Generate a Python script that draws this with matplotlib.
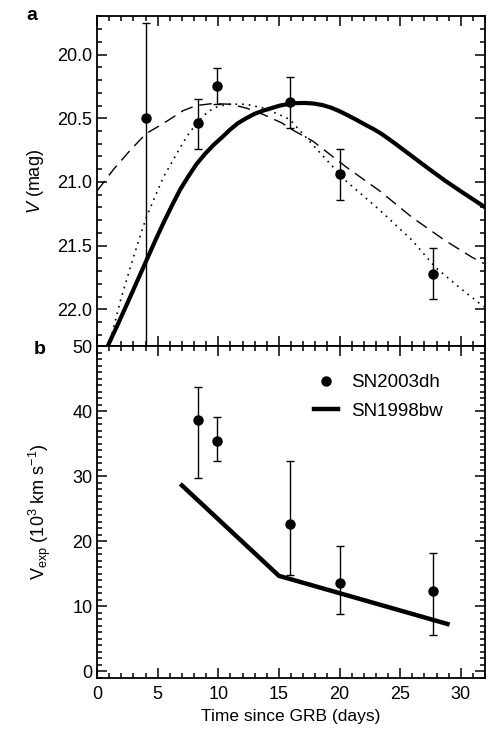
import matplotlib
matplotlib.use("Agg")
import matplotlib.pyplot as plt
from matplotlib.ticker import MultipleLocator
from matplotlib.lines import Line2D

plt.rcParams['font.family'] = ['Liberation Sans', 'DejaVu Sans']
plt.rcParams['mathtext.fontset'] = 'custom'
plt.rcParams['mathtext.rm'] = 'Liberation Sans'
plt.rcParams['mathtext.it'] = 'Liberation Sans:italic'

### panel a data: V magnitudes of SN2003dh
t_obs = [4.0, 8.3, 9.9, 15.9, 20.0, 27.7]
v_obs = [20.50, 20.54, 20.25, 20.37, 20.94, 21.72]
v_up = [0.75, 0.19, 0.145, 0.19, 0.20, 0.20]
v_lo = [2.5, 0.20, 0.14, 0.21, 0.20, 0.20]

# SN1998bw light curve (thick solid)
t_bw = [0.82, 1.7, 2.6, 3.3, 4.05, 4.8, 5.48, 6.2, 6.85, 7.5, 8.2, 8.9,
        9.6, 10.3, 10.96, 11.6, 12.3, 13.0, 13.7, 14.4, 15.1, 15.8, 16.5,
        17.2, 17.9, 18.6, 19.3, 20.0, 20.7, 21.4, 22.1, 22.8, 23.5, 24.6,
        26.0, 27.4, 28.7, 30.1, 31.7, 32.0]
v_bw = [22.30, 22.12, 21.93, 21.78, 21.62, 21.46, 21.32, 21.18, 21.06,
        20.96, 20.86, 20.78, 20.71, 20.65, 20.59, 20.54, 20.50, 20.465,
        20.44, 20.42, 20.40, 20.388, 20.381, 20.380, 20.385, 20.397, 20.417,
        20.445, 20.478, 20.513, 20.55, 20.585, 20.625, 20.70, 20.80, 20.90,
        20.99, 21.08, 21.18, 21.20]

# dashed template
t_dash = [0, 1.37, 2.74, 4.05, 5.48, 7.1, 8.2, 9.5, 11.0, 12.3, 13.7,
          15.3, 15.9, 17.8, 20.5, 23.3, 26.0, 28.7, 30.9, 31.9]
v_dash = [21.07, 20.90, 20.75, 20.62, 20.54, 20.44, 20.40, 20.385, 20.39,
          20.42, 20.47, 20.54, 20.58, 20.68, 20.88, 21.07, 21.28, 21.46,
          21.59, 21.64]

# dotted template
t_dot = [1.1, 1.9, 2.74, 3.4, 4.05, 4.8, 5.48, 6.2, 6.85, 7.5, 8.2, 8.9,
         9.6, 10.3, 10.96, 12.3, 13.7, 15.0, 15.9, 17.8, 20.5, 23.3, 26.0,
         27.9, 29.9, 31.9]
v_dot = [22.24, 21.94, 21.67, 21.47, 21.28, 21.11, 20.96, 20.84, 20.73,
         20.63, 20.54, 20.47, 20.42, 20.40, 20.39, 20.39, 20.42, 20.47,
         20.51, 20.71, 20.99, 21.22, 21.46, 21.67, 21.83, 21.98]

### panel b data: expansion velocities
t_vel = [8.3, 9.9, 15.9, 20.0, 27.7]
vel = [38.7, 35.5, 22.7, 13.6, 12.4]
vel_up = [5.0, 3.6, 9.7, 5.7, 5.8]
vel_lo = [8.9, 3.1, 7.9, 4.8, 6.8]

t_vel_bw = [7.0, 15.0, 28.9]
vel_bw = [28.6, 14.7, 7.3]


def style_axis(ax):
    ax.tick_params(which='both', direction='in', top=True, right=True,
                   labelsize=13, width=1.1)
    ax.tick_params(which='major', length=7)
    ax.tick_params(which='minor', length=3.5)
    for s in ax.spines.values():
        s.set_linewidth(1.3)


fig = plt.figure(figsize=(4.88, 7.43), dpi=100)
axa = fig.add_axes([0.199, 0.534, 0.795, 0.444])
axb = fig.add_axes([0.199, 0.0875, 0.795, 0.4465])

# panel a
axa.plot(t_bw, v_bw, color='black', lw=3.0, solid_capstyle='butt',
         solid_joinstyle='round')
axa.plot(t_dash, v_dash, color='black', lw=1.0, dashes=(9, 5))
axa.plot(t_dot, v_dot, color='black', lw=1.2, dashes=(1, 3))
axa.errorbar(t_obs, v_obs, yerr=[v_up, v_lo], fmt='o', color='black',
             ms=6.5, elinewidth=1.0, capsize=3, capthick=1.0)
axa.set_xlim(0, 32)
axa.set_ylim(22.29, 19.70)
axa.xaxis.set_major_locator(MultipleLocator(5))
axa.xaxis.set_minor_locator(MultipleLocator(1))
axa.yaxis.set_major_locator(MultipleLocator(0.5))
axa.yaxis.set_minor_locator(MultipleLocator(0.1))
axa.yaxis.set_major_formatter(plt.FormatStrFormatter('%.1f'))
axa.set_ylabel(r'$V$ (mag)', fontsize=13, labelpad=8)
style_axis(axa)
axa.tick_params(axis='x', labelbottom=False)

# panel b
axb.errorbar(t_vel, vel, yerr=[vel_lo, vel_up], fmt='o', color='black',
             ms=6.5, elinewidth=1.0, capsize=3, capthick=1.0)
axb.plot(t_vel_bw, vel_bw, color='black', lw=3.2, solid_joinstyle='miter')
axb.set_xlim(0, 32)
axb.set_ylim(-1, 50)
axb.xaxis.set_major_locator(MultipleLocator(5))
axb.xaxis.set_minor_locator(MultipleLocator(1))
axb.yaxis.set_major_locator(MultipleLocator(10))
axb.yaxis.set_minor_locator(MultipleLocator(1))
axb.set_xlabel('Time since GRB (days)', fontsize=12.5)
axb.set_ylabel(r'$\mathrm{V}_{\mathrm{exp}}$ (10$^{3}$ km s$^{-1}$)',
               fontsize=13, labelpad=14)
style_axis(axb)
axb.tick_params(axis='x', pad=6)

handles = [Line2D([], [], ls='none', marker='o', ms=6.5, color='black'),
           Line2D([], [], color='black', lw=3.2)]
axb.legend(handles, ['SN2003dh', 'SN1998bw'], loc='upper right',
           bbox_to_anchor=(0.935, 0.967), frameon=False, fontsize=13.5,
           handlelength=1.3, labelspacing=0.6, handletextpad=0.7)

fig.text(32 / 488, 1 - 15 / 743, 'a', fontsize=14, fontweight='bold',
         ha='center', va='center')
fig.text(40 / 488, 1 - 350 / 743, 'b', fontsize=14, fontweight='bold',
         ha='center', va='center')

fig.savefig('out.png', dpi=100)
